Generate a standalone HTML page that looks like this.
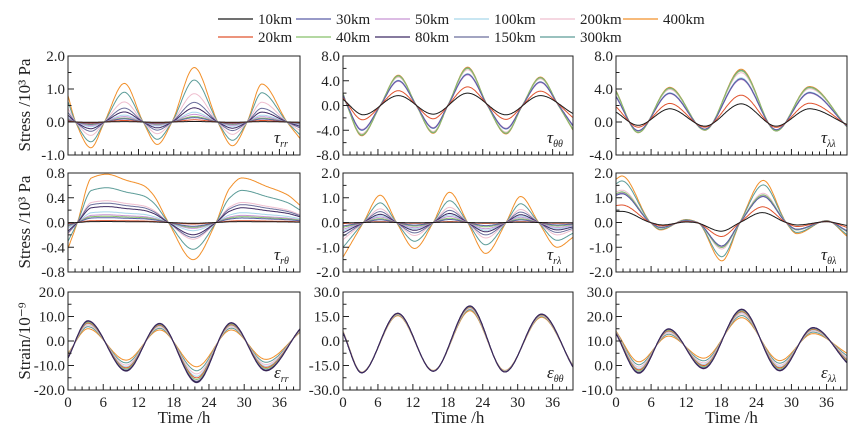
<!DOCTYPE html>
<html><head><meta charset="utf-8"><style>
html,body{margin:0;padding:0;background:#fff;}
svg, svg text{font-family:"Liberation Serif","Times New Roman",serif;}
svg{display:block;}
</style></head>
<body>
<svg id="chart" width="868" height="438" viewBox="0 0 868 438" xmlns="http://www.w3.org/2000/svg" font-family="Liberation Serif, serif"></svg>
<script>
// ---- data ----
const seriesNames = ['10km','20km','30km','40km','50km','80km','100km','150km','200km','300km','400km'];
const seriesColors = ['#1a1a1a','#e0532f','#5b5ea6','#86c06a','#c894d4','#3f2a63','#a7d7ea','#6b6e9c','#efbfcf','#5c9c98','#f2902a'];
const xTickLabels = [0,6,12,18,24,30,36];

// tau_rr
const rrHiT = [0,1.3,3.9,6.2,9.6,12.8,15.2,17.7,21.5,25.5,28,30.5,33,37.3,39.5];
const rrHiV = [0.8,0,-0.78,0,1.17,0,-0.68,0,1.65,0,-0.72,0,1.15,0,-0.5];
const rrLoT = [0,39.5];
const rrLoV = [0,0];
const rrW = [0.01,0.04,0.08,0.1,0.14,0.26,0.18,0.36,0.52,0.77,1];
// tau_thth
const ttHiT = [0,0.7,3.2,6.4,9.5,12.6,15.5,18,21.4,24.8,28,30.8,33.9,37,39.5];
const ttHiV = [2,0,-4.9,0,4.9,0,-4.5,0,6.2,0,-4.6,0,4.6,0,-4];
const ttLoT = [0,3.5,9.5,15.5,21.4,28,33.9,39.5];
const ttLoV = [1.0,-1.5,1.6,-1.4,2.0,-1.5,1.6,-1.3];
const ttW = [0,0.24,0.73,0.95,0.7,0.72,0.75,0.74,0.9,0.97,1];
// tau_ll
const llHiT = [0,3.8,9.2,15.2,21.4,27.4,33.1,39.5];
const llHiV = [3.8,-1.3,4.2,-1.0,6.4,-1.1,4.3,-0.6];
const llLoT = [0,3.8,9.2,15.2,21.4,27.4,33.1,39.5];
const llLoV = [1.2,-0.4,1.6,-0.5,2.2,-0.5,1.6,-0.3];
const llW = [0,0.25,0.72,0.95,0.7,0.72,0.75,0.74,0.9,0.97,1];
// tau_rth
const rtHiT = [0,1.6,4,6.6,10,12.8,14.5,17.1,21.3,25.2,27.5,29.6,33.9,37.3,39.5];
const rtHiV = [-0.42,0,0.72,0.78,0.68,0.6,0.45,0,-0.6,0,0.55,0.72,0.58,0.45,0.28];
const rtLoT = [0,39.5];
const rtLoV = [0,0];
const rtW = [0.02,0.04,0.1,0.13,0.16,0.33,0.22,0.4,0.45,0.72,1];
// tau_rl
const rlHiT = [0,3.5,6.4,9.2,12.3,15.5,18.3,21.4,24.5,28,30.5,33.6,36.8,39.5];
const rlHiV = [-1.4,0,1.1,0,-1.05,0,1.22,0,-1.25,0,1.05,0,-1.0,-0.6];
const rlLoT = [0,39.5];
const rlLoV = [0,0];
const rlW = [0.01,0.03,0.1,0.14,0.2,0.3,0.25,0.4,0.5,0.72,1];
// tau_thl
const tlHiT = [0,1,5.9,7.6,12,14,18.1,21.2,25.2,29.1,30.9,36,39.5];
const tlHiV = [1.75,1.88,0,-0.3,0.12,0,-1.55,0,1.7,0,-0.45,0.08,-0.55];
const tlLoT = [0,1,5.9,8,12,13.5,18,21.2,25,29.1,31,36,39.5];
const tlLoV = [0.45,0.45,0,-0.1,0.02,0,-0.35,0,0.4,0,-0.1,0.03,-0.12];
const tlW = [0,0.18,0.5,0.55,0.52,0.5,0.55,0.52,0.6,0.86,1];
// strain_rr
const erLoT = [0,3.4,9.9,15.6,21.9,27.8,33.7,39.5];
const erLoV = [-7,8.3,-12.3,7.2,-17,7.5,-12.2,5];
const erHiT = [0,3.4,9.9,15.6,21.9,27.8,33.7,39.5];
const erHiV = [-5,5,-7.8,4.5,-10.5,4.5,-7.5,3.5];
// strain_thth
const etLoT = [0,3.2,9.4,15.5,21.8,27.8,34.1,39.5];
const etLoV = [5,-19.5,17,-18.5,21.5,-19,16.5,-16];
const etHiT = [0,3.2,9.4,15.5,21.8,27.8,34.1,39.5];
const etHiV = [6,-19,15.5,-18,18.5,-18,14.5,-15];
// strain_ll
const elLoT = [0,3.9,9,15,21.5,28,33.7,39.5];
const elLoV = [13,-3.2,15,-1.3,23,-2.2,15.5,1];
const elHiT = [0,3.9,9,15,21.5,28,33.7,39.5];
const elHiV = [14,1.5,12,3,19.5,2,13,5];
const strainW = [0.03,0.3,0.05,0.2,0.1,0,0.4,0.08,0.55,0.75,1];

// ---- layout ----
const NS='http://www.w3.org/2000/svg';
const svg=document.getElementById('chart');
const colX=[[68,300],[343,573],[616,847]];
const rowY=[[56,155],[173,272],[292,390]];
const XMAX=39.5;
const FONT='Liberation Serif, Times New Roman, serif';
function el(tag,attrs,parent){const e=document.createElementNS(NS,tag);for(const k in attrs)e.setAttribute(k,attrs[k]);if(tag==='text')e.setAttribute('font-family',FONT);(parent||svg).appendChild(e);return e;}

function interp(T,V,t){
  const n=T.length;
  if(n===2){const f=(t-T[0])/(T[1]-T[0]);return V[0]+f*(V[1]-V[0]);}
  const d=[],m=[];
  for(let i=0;i<n-1;i++)d.push((V[i+1]-V[i])/(T[i+1]-T[i]));
  m[0]=d[0];m[n-1]=d[n-2];
  for(let i=1;i<n-1;i++){m[i]=(d[i-1]*d[i]<=0)?0:(2/(1/d[i-1]+1/d[i]));}
  let i=0;while(i<n-2&&t>T[i+1])i++;
  const h=T[i+1]-T[i],s=(t-T[i])/h,s2=s*s,s3=s2*s;
  return (2*s3-3*s2+1)*V[i]+(s3-2*s2+s)*h*m[i]+(-2*s3+3*s2)*V[i+1]+(s3-s2)*h*m[i+1];
}

const panels=[
 {c:0,r:0,name:'tau-rr',lab:'τ',sub:'rr',ymin:-1,ymax:2,step:1,hiT:rrHiT,hiV:rrHiV,loT:rrLoT,loV:rrLoV,w:rrW},
 {c:1,r:0,name:'tau-thetatheta',lab:'τ',sub:'θθ',ymin:-8,ymax:8,step:4,hiT:ttHiT,hiV:ttHiV,loT:ttLoT,loV:ttLoV,w:ttW},
 {c:2,r:0,name:'tau-lambdalambda',lab:'τ',sub:'λλ',ymin:-4,ymax:8,step:4,hiT:llHiT,hiV:llHiV,loT:llLoT,loV:llLoV,w:llW},
 {c:0,r:1,name:'tau-rtheta',lab:'τ',sub:'rθ',ymin:-0.8,ymax:0.8,step:0.4,hiT:rtHiT,hiV:rtHiV,loT:rtLoT,loV:rtLoV,w:rtW},
 {c:1,r:1,name:'tau-rlambda',lab:'τ',sub:'rλ',ymin:-2,ymax:2,step:1,hiT:rlHiT,hiV:rlHiV,loT:rlLoT,loV:rlLoV,w:rlW},
 {c:2,r:1,name:'tau-thetalambda',lab:'τ',sub:'θλ',ymin:-2,ymax:2,step:1,hiT:tlHiT,hiV:tlHiV,loT:tlLoT,loV:tlLoV,w:tlW},
 {c:0,r:2,name:'epsilon-rr',lab:'ε',sub:'rr',ymin:-20,ymax:20,step:10,hiT:erHiT,hiV:erHiV,loT:erLoT,loV:erLoV,w:strainW,strain:true},
 {c:1,r:2,name:'epsilon-thetatheta',lab:'ε',sub:'θθ',ymin:-30,ymax:30,step:15,hiT:etHiT,hiV:etHiV,loT:etLoT,loV:etLoV,w:strainW,strain:true},
 {c:2,r:2,name:'epsilon-lambdalambda',lab:'ε',sub:'λλ',ymin:-10,ymax:30,step:10,hiT:elHiT,hiV:elHiV,loT:elLoT,loV:elLoV,w:strainW,strain:true},
];

panels.forEach(p=>{
  const [x0,x1]=colX[p.c],[y0,y1]=rowY[p.r];
  const g=el('g',{});
  
  
  const xs=t=>x0+(t/XMAX)*(x1-x0);
  const ys=v=>y1-(v-p.ymin)/(p.ymax-p.ymin)*(y1-y0);
  const clipId='clip'+p.c+p.r;
  const cp=el('clipPath',{id:clipId},g);el('rect',{x:x0,y:y0,width:x1-x0,height:y1-y0},cp);
  const lg=el('g',{'clip-path':'url(#'+clipId+')'},g);
  const order=[];
  if(p.strain){ for(let s=0;s<seriesNames.length;s++) order.push(s); order.reverse(); order.sort((a,b)=>p.w[b]-p.w[a]); }
  else { for(let s=seriesNames.length-1;s>=0;s--) order.push(s); }
  order.forEach(s=>{
    let d='';
    for(let t=0;t<=XMAX+0.001;t+=0.1){
      const lo=interp(p.loT,p.loV,t),hi=interp(p.hiT,p.hiV,t);
      const v=lo+p.w[s]*(hi-lo);
      d+=(d?'L':'M')+xs(t).toFixed(1)+','+ys(v).toFixed(1);
    }
    const path=el('path',{d:d,fill:'none',stroke:seriesColors[s],'stroke-width':1},lg);
    
    
  });
  el('rect',{x:x0,y:y0,width:x1-x0,height:y1-y0,fill:'none',stroke:'#222','stroke-width':1},g);
  for(let k=0;k*1.2<=XMAX;k++){
    const t=k*1.2,major=(k%5===0);
    el('line',{x1:xs(t),x2:xs(t),y1:y1,y2:y1-(major?6:3.5),stroke:'#222','stroke-width':1},g);
  }
  if(p.r===2){
    xTickLabels.forEach(t=>{
      const tx=el('text',{x:xs(t),y:y1+17,'text-anchor':'middle','font-size':15,fill:'#222'},g);
      tx.textContent=t;
      
      
    });
    const xt=el('text',{x:(x0+x1)/2,y:y1+33,'text-anchor':'middle','font-size':17,fill:'#222'},g);
    xt.textContent='Time /h';
    
    
  }
  const nSteps=Math.round((p.ymax-p.ymin)/p.step);
  for(let k=0;k<=nSteps*2;k++){
    const v=p.ymin+k*p.step/2,major=(k%2===0);
    el('line',{x1:x0,x2:x0+(major?6:3.5),y1:ys(v),y2:ys(v),stroke:'#222','stroke-width':1},g);
    if(major){
      const tx=el('text',{x:x0-3,y:ys(v)+5,'text-anchor':'end','font-size':15,fill:'#222'},g);
      tx.textContent=(Math.abs(v)<1e-9?0:v).toFixed(1);
      
      
    }
  }
  const lt=el('text',{x:x1-26,y:y1-12,'font-size':17,'font-style':'italic',fill:'#222'},g);
  lt.innerHTML=p.lab+'<tspan font-size="10" dy="4">'+p.sub+'</tspan>';
  
  
});

[['Stress /10³ Pa',105],['Stress /10³ Pa',222],['Strain/10⁻⁹',341]].forEach((a,i)=>{
  const t=el('text',{x:0,y:0,transform:'translate(30,'+a[1]+') rotate(-90)','text-anchor':'middle','font-size':17,fill:'#222'});
  t.textContent=a[0];
  
  
});

const legX=[258,336,415,494,580,663];
const legOrder=[[0,2,4,6,8,10],[1,3,5,7,9]];
legOrder.forEach((row,ri)=>{
  const y=ri===0?23:41;
  row.forEach((s,ci)=>{
    const g=el('g',{});
    
    
    el('line',{x1:legX[ci]-40,x2:legX[ci]-5,y1:y-4,y2:y-4,stroke:seriesColors[s],'stroke-width':1.2},g);
    const t=el('text',{x:legX[ci],y:y+1,'font-size':15,fill:'#222'},g);
    t.textContent=seriesNames[s];
  });
});
</script>
</body></html>
